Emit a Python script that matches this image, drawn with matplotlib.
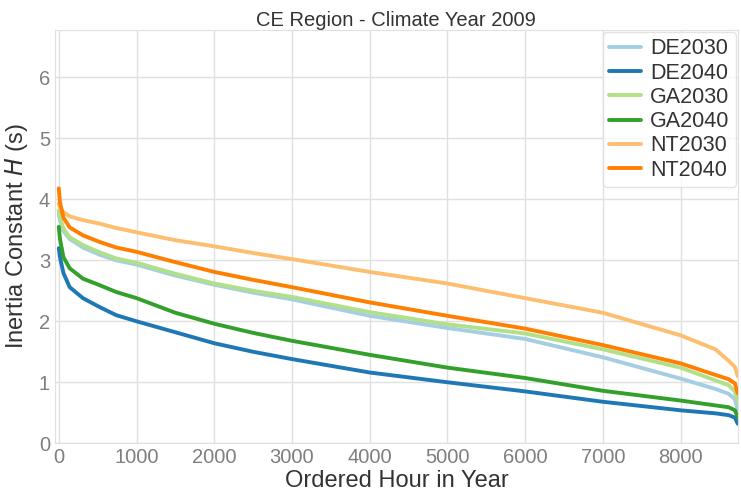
import matplotlib
matplotlib.use("Agg")
import matplotlib.pyplot as plt
import seaborn as sns

hours = [0, 15, 60, 140, 310, 530, 740, 1000, 1500, 2000, 2500, 3000, 4000,
         5000, 6000, 7000, 8000, 8450, 8620, 8700, 8736]

de2030 = [3.76, 3.65, 3.48, 3.35, 3.21, 3.09, 3.00, 2.93, 2.75, 2.60, 2.47,
          2.36, 2.09, 1.89, 1.71, 1.41, 1.06, 0.89, 0.81, 0.72, 0.55]
de2040 = [3.20, 3.05, 2.79, 2.56, 2.38, 2.23, 2.10, 2.00, 1.82, 1.64, 1.50,
          1.38, 1.16, 1.00, 0.85, 0.68, 0.54, 0.49, 0.46, 0.42, 0.32]
ga2030 = [3.82, 3.70, 3.52, 3.38, 3.25, 3.13, 3.03, 2.96, 2.78, 2.62, 2.50,
          2.40, 2.15, 1.95, 1.80, 1.54, 1.24, 1.03, 0.95, 0.85, 0.67]
ga2040 = [3.55, 3.35, 3.05, 2.87, 2.70, 2.59, 2.48, 2.38, 2.14, 1.96, 1.81,
          1.68, 1.45, 1.24, 1.07, 0.86, 0.70, 0.62, 0.59, 0.54, 0.43]
nt2030 = [3.93, 3.86, 3.79, 3.72, 3.66, 3.60, 3.53, 3.46, 3.33, 3.23, 3.12,
          3.02, 2.81, 2.62, 2.38, 2.14, 1.77, 1.54, 1.35, 1.25, 1.10]
nt2040 = [4.18, 3.95, 3.70, 3.54, 3.41, 3.30, 3.21, 3.14, 2.97, 2.81, 2.68,
          2.56, 2.31, 2.09, 1.88, 1.61, 1.31, 1.12, 1.05, 0.98, 0.82]

names = ["DE2030", "DE2040", "GA2030", "GA2040", "NT2030", "NT2040"]
series = [de2030, de2040, ga2030, ga2040, nt2030, nt2040]
colors = ["#a6cee3", "#1f78b4", "#b2df8a", "#33a02c", "#fdbf6f", "#ff7f00"]

sns.set_style("whitegrid")
plt.rcParams['font.family'] = ['Liberation Sans', 'DejaVu Sans']

fig = plt.figure(figsize=(7.41, 4.98), dpi=100)
ax = fig.add_axes([0.074, 0.110, 0.922, 0.830])

for name, vals, c in zip(names, series, colors):
    ax.plot(hours, vals, color=c, lw=2.8, label=name)

ax.set_xlim(-51, 8740)
ax.set_ylim(0, 6.78)
ax.set_xticks(range(0, 8001, 1000))
ax.set_yticks(range(0, 7))
ax.grid(color="#e0e0e0", lw=1)
ax.tick_params(labelsize=14.5, colors="#7f7f7f", length=0)
for s in ax.spines.values():
    s.set_color("#e0e0e0")

ax.set_title("CE Region - Climate Year 2009", fontsize=14.5, color="#333333", pad=3)
ax.set_xlabel("Ordered Hour in Year", fontsize=17, color="#333333", labelpad=2)
ax.set_ylabel("Inertia Constant $H$ (s)", fontsize=17, color="#333333", labelpad=6)

leg = ax.legend(loc="upper right", fontsize=15.5, frameon=True, handlelength=1.5,
                handletextpad=0.4, borderpad=0.3, labelspacing=0.15, borderaxespad=0.1)
leg.get_frame().set_edgecolor("#dddddd")
for t in leg.get_texts():
    t.set_color("#333333")

fig.savefig("out.png", dpi=100)
